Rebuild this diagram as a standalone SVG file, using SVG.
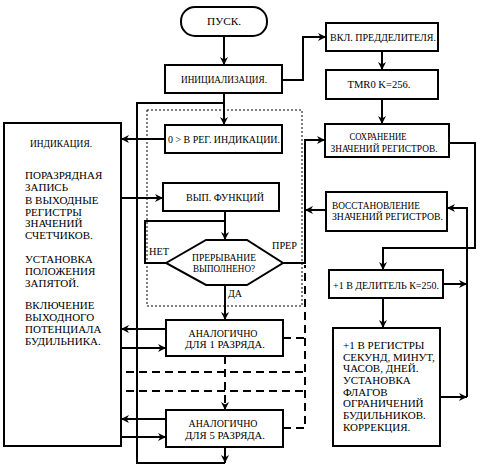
<svg xmlns="http://www.w3.org/2000/svg" width="482" height="468" viewBox="0 0 482 468" font-family="'Liberation Serif', 'Times New Roman', 'DejaVu Serif', serif" font-size="11">
<style>
.b{fill:#fff;stroke:#000;stroke-width:2}
.c{fill:none;stroke:#000;stroke-width:2}
.d{fill:none;stroke:#000;stroke-width:2;stroke-dasharray:8 5}
.dot{fill:none;stroke:#000;stroke-width:1;stroke-dasharray:2 2}
text{font-family:'Liberation Serif','Times New Roman','DejaVu Serif',serif;font-size:11px;fill:#000}
.m{text-anchor:middle}
</style>
<defs>
<marker id="ah" viewBox="0 0 10 10" refX="10" refY="5" markerWidth="10" markerHeight="8" orient="auto" markerUnits="userSpaceOnUse">
<path d="M0,0 L10,5 L0,10 L3,5 z" fill="#000"/>
</marker>
</defs>
<rect x="0" y="0" width="482" height="468" fill="#fff"/>
<g id="loopframe">
<rect class="dot" x="147" y="110" width="155" height="196"/>
</g>
<g id="connectors">
<path class="c" d="M224,36 V65" marker-end="url(#ah)"/>
<path class="c" d="M282,80 H303 V37 H326" marker-end="url(#ah)"/>
<path class="c" d="M382,51 V70" marker-end="url(#ah)"/>
<path class="c" d="M382,99 V124" marker-end="url(#ah)"/>
<path class="c" d="M449,143 H475 V248 H383 V270" marker-end="url(#ah)"/>
<path class="c" d="M467,397 V208 H447" marker-end="url(#ah)"/>
<path class="c" d="M326,210 H305" marker-end="url(#ah)"/>
<path class="c" d="M443,284 H467" marker-end="url(#ah)"/>
<path class="c" d="M383,298 V328" marker-end="url(#ah)"/>
<path class="c" d="M440,397 H467" marker-end="url(#ah)"/>
<path class="c" d="M224,93 V125" marker-end="url(#ah)"/>
<path class="c" d="M224,103 H137 V463 H225"/>
<path class="c" d="M225,447 V463" marker-end="url(#ah)"/>
<path class="c" d="M165,139 H121" marker-end="url(#ah)"/>
<path class="c" d="M121,198 H163" marker-end="url(#ah)"/>
<path class="c" d="M225,211 V240" marker-end="url(#ah)"/>
<path class="c" d="M166,263 H145 V221 H225"/>
<path class="c" d="M283,263 H305 V140 H325" marker-end="url(#ah)"/>
<path class="c" d="M225,285 V320" marker-end="url(#ah)"/>
<path class="c" d="M166,329 H121" marker-end="url(#ah)"/>
<path class="c" d="M121,348 H166" marker-end="url(#ah)"/>
<path class="c" d="M166,419 H121" marker-end="url(#ah)"/>
<path class="c" d="M121,437 H166" marker-end="url(#ah)"/>
<path class="d" d="M225,356 V410" marker-end="url(#ah)"/>
<path class="d" d="M283,338 H305"/>
<path class="d" d="M283,428 H305 V265"/>
<path class="d" d="M126,372 H305"/>
<path class="d" d="M126,391 H305"/>
</g>
<g id="start">
<rect class="b" x="181" y="7" width="86" height="29" rx="14"/>
<text class="m" x="224" y="25" textLength="34" lengthAdjust="spacingAndGlyphs">ПУСК.</text>
</g>
<g id="init">
<rect class="b" x="165" y="65" width="117" height="28"/>
<text class="m" x="224" y="83" textLength="86" lengthAdjust="spacingAndGlyphs">ИНИЦИАЛИЗАЦИЯ.</text>
</g>
<g id="prescaler">
<rect class="b" x="326" y="23" width="112" height="28"/>
<text class="m" x="383" y="41" textLength="106" lengthAdjust="spacingAndGlyphs">ВКЛ. ПРЕДДЕЛИТЕЛЯ.</text>
</g>
<g id="tmr0">
<rect class="b" x="326" y="70" width="112" height="29"/>
<text class="m" x="379" y="88" textLength="63" lengthAdjust="spacingAndGlyphs">TMR0 K=256.</text>
</g>
<g id="save">
<rect class="b" x="325" y="124" width="124" height="33"/>
<text class="m" x="378" y="140" textLength="57" lengthAdjust="spacingAndGlyphs">СОХРАНЕНИЕ</text>
<text class="m" x="384" y="152" textLength="107" lengthAdjust="spacingAndGlyphs">ЗНАЧЕНИЙ РЕГИСТРОВ.</text>
</g>
<g id="restore">
<rect class="b" x="326" y="192" width="121" height="39"/>
<text x="332" y="209" textLength="88" lengthAdjust="spacingAndGlyphs">ВОССТАНОВЛЕНИЕ</text>
<text x="332" y="220" textLength="111" lengthAdjust="spacingAndGlyphs">ЗНАЧЕНИЙ РЕГИСТРОВ.</text>
</g>
<g id="divider">
<rect class="b" x="329" y="270" width="114" height="28"/>
<text class="m" x="386" y="289" textLength="106" lengthAdjust="spacingAndGlyphs">+1 В ДЕЛИТЕЛЬ К=250.</text>
</g>
<g id="registers">
<rect class="b" x="333" y="328" width="107" height="118"/>
<text x="343" y="349">+1 В РЕГИСТРЫ</text>
<text x="343" y="361">СЕКУНД, МИНУТ,</text>
<text x="343" y="372">ЧАСОВ, ДНЕЙ.</text>
<text x="343" y="384">УСТАНОВКА</text>
<text x="343" y="396">ФЛАГОВ</text>
<text x="343" y="407">ОГРАНИЧЕНИЙ</text>
<text x="343" y="419">БУДИЛЬНИКОВ.</text>
<text x="343" y="431">КОРРЕКЦИЯ.</text>
</g>
<g id="indication">
<rect class="b" x="4" y="123" width="117" height="323"/>
<text class="m" x="61" y="147" textLength="62" lengthAdjust="spacingAndGlyphs">ИНДИКАЦИЯ.</text>
<text x="25" y="179">ПОРАЗРЯДНАЯ</text>
<text x="25" y="191">ЗАПИСЬ</text>
<text x="25" y="204">В ВЫХОДНЫЕ</text>
<text x="25" y="216">РЕГИСТРЫ</text>
<text x="25" y="227">ЗНАЧЕНИЙ</text>
<text x="25" y="239">СЧЕТЧИКОВ.</text>
<text x="25" y="263">УСТАНОВКА</text>
<text x="25" y="275">ПОЛОЖЕНИЯ</text>
<text x="25" y="287">ЗАПЯТОЙ.</text>
<text x="25" y="309">ВКЛЮЧЕНИЕ</text>
<text x="25" y="321">ВЫХОДНОГО</text>
<text x="25" y="333">ПОТЕНЦИАЛА</text>
<text x="25" y="345">БУДИЛЬНИКА.</text>
</g>
<g id="clear">
<rect class="b" x="165" y="125" width="117" height="28"/>
<text class="m" x="224" y="143" textLength="112" lengthAdjust="spacingAndGlyphs">0 &gt; В РЕГ. ИНДИКАЦИИ.</text>
</g>
<g id="exec">
<rect class="b" x="163" y="183" width="116" height="28"/>
<text class="m" x="225" y="201" textLength="78" lengthAdjust="spacingAndGlyphs">ВЫП. ФУНКЦИЙ</text>
</g>
<g id="decision">
<polygon class="b" points="166,263 206,240 247,240 283,263 247,285 206,285"/>
<text class="m" x="224" y="261" textLength="64" lengthAdjust="spacingAndGlyphs">ПРЕРЫВАНИЕ</text>
<text class="m" x="224" y="272" textLength="62" lengthAdjust="spacingAndGlyphs">ВЫПОЛНЕНО?</text>
<text x="149" y="255" textLength="20" lengthAdjust="spacingAndGlyphs">НЕТ</text>
<text x="272" y="249" textLength="25" lengthAdjust="spacingAndGlyphs">ПРЕР</text>
<text x="228" y="297" textLength="14" lengthAdjust="spacingAndGlyphs">ДА</text>
</g>
<g id="digit1">
<rect class="b" x="166" y="320" width="117" height="36"/>
<text class="m" x="223" y="337" textLength="69" lengthAdjust="spacingAndGlyphs">АНАЛОГИЧНО</text>
<text class="m" x="225" y="348" textLength="80" lengthAdjust="spacingAndGlyphs">ДЛЯ 1 РАЗРЯДА.</text>
</g>
<g id="digit5">
<rect class="b" x="166" y="410" width="117" height="37"/>
<text class="m" x="223" y="427" textLength="69" lengthAdjust="spacingAndGlyphs">АНАЛОГИЧНО</text>
<text class="m" x="225" y="439" textLength="80" lengthAdjust="spacingAndGlyphs">ДЛЯ 5 РАЗРЯДА.</text>
</g>
</svg>
